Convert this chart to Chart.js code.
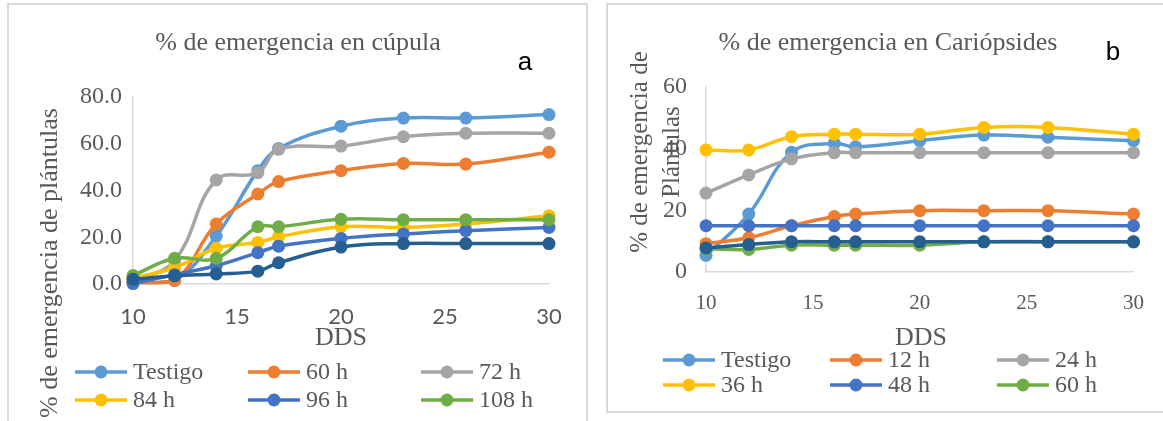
<!DOCTYPE html>
<html>
<head>
<meta charset="utf-8">
<script src="https://cdn.jsdelivr.net/npm/chart.js@4.4.0/dist/chart.umd.min.js"></script>
<style>
  html, body { margin: 0; padding: 0; background: #fff; overflow: hidden; }
  .frame { position: absolute; box-sizing: border-box; border: 2px solid #d9d9d9; background: #fff; }
  #frameA { left: 7px; top: 3px; width: 581px; height: 440px; }
  #frameB { left: 606px; top: 3px; width: 600px; height: 410px; }
  canvas { position: absolute; }
  #chartA { left: 8px; top: 5px; }
  #chartB { left: 608px; top: 5px; }
</style>
</head>
<body>
<div class="frame" id="frameA"></div>
<div class="frame" id="frameB"></div>
<canvas id="chartA" width="578" height="416"></canvas>
<canvas id="chartB" width="555" height="405"></canvas>
<script>
// Datos: días después de siembra (DDS)
const dds = [10, 12, 14, 16, 17, 20, 23, 26, 30];
const xTicks = [10, 15, 20, 25, 30];
const yTicksA = [0, 20, 40, 60, 80];
const yTicksB = [0, 20, 40, 60];

// a) % de emergencia en cúpula
const cupulaLabels = ['Testigo', '60 h', '72 h', '84 h', '96 h', '108 h'];
const cupulaTestigo = [0.5, 1.5, 20.5, 48.5, 58.0, 67.5, 71.0, 71.0, 72.5];
const cupula60 = [0.5, 1.5, 25.7, 38.5, 43.8, 48.5, 51.6, 51.3, 56.4];
const cupula72 = [1.0, 10.0, 44.5, 47.6, 57.6, 59.0, 63.0, 64.5, 64.5];
const cupula84 = [2.5, 7.0, 15.3, 17.8, 20.2, 24.5, 24.2, 25.7, 29.2];
const cupula96 = [0.2, 4.0, 7.8, 13.4, 16.2, 19.5, 21.4, 22.8, 24.2];
const cupula108 = [3.6, 11.0, 11.0, 24.5, 24.5, 27.7, 27.5, 27.5, 27.5];
const cupulaExtra = [2.0, 3.5, 4.3, 5.5, 9.1, 15.8, 17.3, 17.3, 17.3];

// b) % de emergencia en cariópsides
const cariopLabels = ['Testigo', '12 h', '24 h', '36 h', '48 h', '60 h'];
const cariopTestigo = [5.4, 18.8, 38.8, 41.7, 40.6, 42.6, 44.4, 43.7, 42.6];
const cariop12 = [9.2, 11.1, 15.0, 18.0, 18.8, 19.9, 19.9, 19.9, 18.8];
const cariop24 = [25.6, 31.5, 36.7, 38.7, 38.7, 38.7, 38.7, 38.7, 38.7];
const cariop36 = [39.6, 39.6, 43.9, 44.7, 44.7, 44.7, 46.9, 46.9, 44.7];
const cariop48 = [15.0, 15.0, 15.0, 15.0, 15.0, 15.0, 15.0, 15.0, 15.0];
const cariop60 = [7.6, 7.3, 8.7, 8.7, 8.7, 8.7, 9.8, 9.8, 9.8];
const cariopExtra = [7.8, 8.9, 9.8, 9.8, 9.8, 9.8, 9.8, 9.8, 9.8];

const colores = ['#5B9BD5', '#ED7D31', '#A5A5A5', '#FFC000', '#4472C4', '#70AD47', '#255E91'];
const gris = '#595959';
const serif = '"Liberation Serif", "Times New Roman", serif';

function serie(label, values, i) {
  return {
    label: label,
    data: values.map((v, k) => ({ x: dds[k], y: v })),
    borderColor: colores[i],
    backgroundColor: colores[i],
    borderWidth: 3.5,
    pointRadius: 6.5,
    pointBorderWidth: 0,
    tension: 0.4,
    clip: false,
    order: 10 - i
  };
}

// textos, leyenda y letras del panel
function decor(cfg) {
  return {
    id: 'decor',
    afterDraw(chart) {
      const ctx = chart.ctx;
      ctx.save();
      ctx.fillStyle = gris;
      ctx.textAlign = 'center';
      ctx.textBaseline = 'middle';
      ctx.font = '26px ' + serif;
      ctx.fillText(cfg.title, cfg.titleX, cfg.titleY);
      ctx.font = '26px ' + serif;
      ctx.fillText('DDS', cfg.ddsX, cfg.ddsY);
      ctx.font = cfg.yTitleSize + 'px ' + serif;
      cfg.yTitle.forEach(t => {
        ctx.save();
        ctx.translate(t.x, t.y);
        ctx.rotate(-Math.PI / 2);
        ctx.fillText(t.text, 0, 0);
        ctx.restore();
      });
      ctx.fillStyle = '#000';
      ctx.font = '26px "Liberation Sans", Arial, sans-serif';
      ctx.fillText(cfg.letter, cfg.letterX, cfg.letterY);

      // leyenda en tres columnas
      ctx.font = '24px ' + serif;
      ctx.textAlign = 'left';
      cfg.labels.forEach((lab, i) => {
        const x = cfg.legX[i % 3];
        const y = cfg.legY[Math.floor(i / 3)];
        ctx.strokeStyle = colores[i];
        ctx.lineWidth = 3.5;
        ctx.beginPath();
        ctx.moveTo(x, y);
        ctx.lineTo(x + 52, y);
        ctx.stroke();
        ctx.fillStyle = colores[i];
        ctx.beginPath();
        ctx.arc(x + 26, y, 6.5, 0, Math.PI * 2);
        ctx.fill();
        ctx.fillStyle = gris;
        ctx.fillText(lab, x + 58, y + 1);
      });
      ctx.restore();
    }
  };
}

function makeChart(id, labels, series, extra, yTicks, opt) {
  const datasets = labels.map((l, i) => serie(l, series[i], i));
  datasets.push(serie('', extra, 6));
  return new Chart(document.getElementById(id), {
    type: 'line',
    data: { datasets: datasets },
    options: {
      responsive: false,
      animation: false,
      devicePixelRatio: 1,
      layout: { padding: { top: opt.top, right: opt.right, left: 0, bottom: 0 } },
      plugins: { legend: { display: false }, title: { display: false }, tooltip: { enabled: false } },
      scales: {
        x: {
          type: 'linear',
          min: 10,
          max: 30,
          afterFit: s => { s.height = opt.xHeight; },
          afterBuildTicks: s => { s.ticks = xTicks.map(v => ({ value: v })); },
          grid: { display: false, drawTicks: false },
          border: { display: true, color: '#d9d9d9', width: 1.5 },
          ticks: { padding: opt.xPad, color: gris, font: { family: opt.xFont, size: opt.xSize }, maxRotation: 0 }
        },
        y: {
          min: 0,
          max: yTicks[yTicks.length - 1],
          afterFit: s => { s.width = opt.yWidth; },
          afterBuildTicks: s => { s.ticks = yTicks.map(v => ({ value: v })); },
          grid: { display: false, drawTicks: false },
          border: { display: true, color: '#d9d9d9', width: 1.5 },
          ticks: { padding: opt.yPad, color: gris, font: { family: serif, size: 24 }, callback: opt.fmt }
        }
      }
    },
    plugins: [decor(opt.decor)]
  });
}

makeChart('chartA', cupulaLabels,
  [cupulaTestigo, cupula60, cupula72, cupula84, cupula96, cupula108], cupulaExtra, yTicksA, {
    top: 92, right: 37, yWidth: 125, xHeight: 137, xPad: 20, yPad: 11,
    xFont: 'Lato, "Open Sans", sans-serif', xSize: 22,
    fmt: v => Number(v).toFixed(1),
    decor: {
      title: '% de emergencia en cúpula', titleX: 290, titleY: 38,
      ddsX: 333, ddsY: 333,
      yTitle: [{ text: '% de emergencia de plántulas', x: 42, y: 258 }], yTitleSize: 26,
      letter: 'a', letterX: 517, letterY: 58,
      labels: cupulaLabels, legX: [67, 240, 413], legY: [367, 395]
    }
  });

makeChart('chartB', cariopLabels,
  [cariopTestigo, cariop12, cariop24, cariop36, cariop48, cariop60], cariopExtra, yTicksB, {
    top: 82, right: 26, yWidth: 98, xHeight: 138, xPad: 19, yPad: 19,
    xFont: serif, xSize: 21,
    fmt: v => String(v),
    decor: {
      title: '% de emergencia en Cariópsides', titleX: 280, titleY: 38,
      ddsX: 313, ddsY: 333,
      yTitle: [{ text: '% de emergencia de', x: 32, y: 147 }, { text: 'Plántulas', x: 64, y: 147 }], yTitleSize: 25,
      letter: 'b', letterX: 505, letterY: 48,
      labels: cariopLabels, legX: [55, 222, 389], legY: [355, 380]
    }
  });
</script>
</body>
</html>
